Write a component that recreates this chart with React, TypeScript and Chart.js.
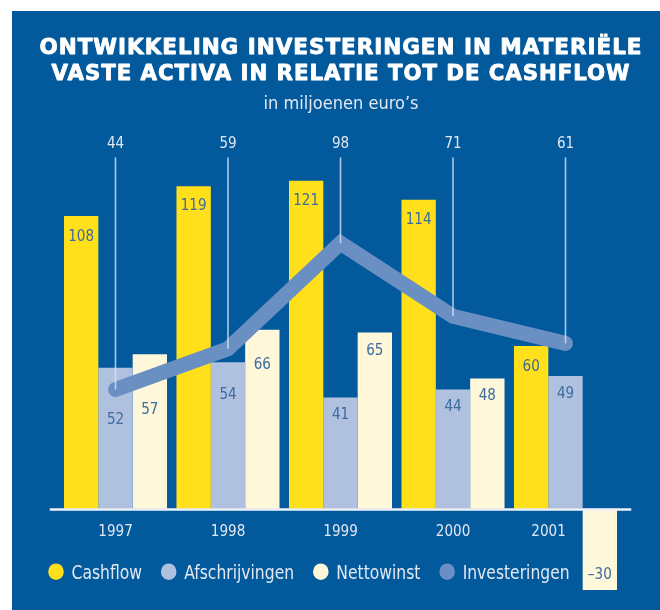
import React, { useEffect, useRef } from 'react';
import { Chart, registerables } from 'chart.js';

Chart.register(...registerables);

// ---- data ----
const years = ['1997', '1998', '1999', '2000', '2001'];
const cashflow = [108, 119, 121, 114, 60];
const afschrijvingen = [52, 54, 41, 44, 49];
const nettowinst = [57, 66, 65, 48, -30];
const investeringen = [44, 59, 98, 71, 61];
const seriesNames = ['Cashflow', 'Afschrijvingen', 'Nettowinst', 'Investeringen'];
const titleLines = ['ONTWIKKELING INVESTERINGEN IN MATERIËLE', 'VASTE ACTIVA IN RELATIE TOT DE CASHFLOW'];
const subtitle = 'in miljoenen euro\u2019s';

// ---- styles ----
const BLUE = '#02599c';
const YELLOW = '#ffe01b';
const LAVENDER = '#b0c1df';
const CREAM = '#fff7da';
const LINE = '#6a8fc2';
const LABEL = '#3c6c9f';
const LIGHT = '#e2e8f2';
const COND = "'DejaVu Sans Condensed', 'DejaVu Sans', sans-serif";
const BOLD = "bold 22px 'DejaVu Sans', sans-serif";
// label offsets (px below bar top, or above bar bottom for negatives), per bar series
const labelOffsets = [
  [19, 18, 19, 19, 19],
  [51, 31, 16, 16, 17],
  [54, 34, 17, 16, 17],
];
// horizontal shift of the year labels (2001 centred on its bars above the axis)
const yearShift = [0, 0, 0, 0, -17];

function measure(ctx: CanvasRenderingContext2D, font: string, s: string) {
  ctx.save();
  ctx.font = font;
  (ctx as any).fontStretch = 'condensed';
  const w = ctx.measureText(s).width;
  ctx.restore();
  return w;
}

function drawText(
  ctx: CanvasRenderingContext2D,
  text: string,
  x: number,
  y: number,
  font: string,
  color: string,
  align: CanvasTextAlign,
  sx = 1
) {
  ctx.save();
  ctx.font = font;
  (ctx as any).fontStretch = 'condensed';
  ctx.fillStyle = color;
  ctx.textAlign = align;
  ctx.textBaseline = 'alphabetic';
  ctx.translate(x, y);
  ctx.scale(sx, 1);
  ctx.fillText(text, 0, 0);
  ctx.restore();
}

const panelPlugin = {
  id: 'panel',
  beforeDraw(chart: any) {
    const ctx = chart.ctx as CanvasRenderingContext2D;
    ctx.save();
    ctx.fillStyle = '#ffffff';
    ctx.fillRect(0, 0, chart.width, chart.height);
    ctx.fillStyle = BLUE;
    ctx.fillRect(12, 11, chart.width - 12, chart.height - 11);
    ctx.restore();
  },
  afterDraw(chart: any) {
    const ctx = chart.ctx as CanvasRenderingContext2D;
    // title
    const tw = [603, 579];
    const tb = [54, 80];
    titleLines.forEach((t, i) => {
      ctx.save();
      ctx.font = BOLD;
      (ctx as any).letterSpacing = '1px';
      const w = ctx.measureText(t).width;
      ctx.restore();
      ctx.save();
      ctx.font = BOLD;
      (ctx as any).letterSpacing = '1px';
      ctx.fillStyle = '#ffffff';
      ctx.strokeStyle = '#ffffff';
      ctx.lineWidth = 0.9;
      ctx.lineJoin = 'round';
      ctx.textAlign = 'center';
      ctx.translate(341, tb[i]);
      ctx.scale(tw[i] / w, 1);
      ctx.fillText(t, 0, 0);
      ctx.strokeText(t, 0, 0);
      ctx.restore();
    });
    const sf = `18px ${COND}`;
    drawText(ctx, subtitle, 341, 109, sf, LIGHT, 'center', 155 / measure(ctx, sf, subtitle));
  },
};

const decorPlugin = {
  id: 'decor',
  afterDatasetsDraw(chart: any) {
    const ctx = chart.ctx as CanvasRenderingContext2D;
    const xs = chart.scales.x;
    const ys = chart.scales.y;
    const area = chart.chartArea;
    const y0 = ys.getPixelForValue(0);

    // axis line
    ctx.save();
    ctx.strokeStyle = '#eef2f8';
    ctx.lineWidth = 2.5;
    ctx.beginPath();
    ctx.moveTo(xs.left - 9.5, y0 + 0.75);
    ctx.lineTo(xs.right + 9.5, y0 + 0.75);
    ctx.stroke();
    ctx.restore();

    const numFont = `15px ${COND}`;
    const numSx = 34.5 / measure(ctx, numFont, '1997');

    // guide lines + top labels for the line series
    const lineMeta = chart.getDatasetMeta(3);
    lineMeta.data.forEach((p: any, i: number) => {
      ctx.save();
      ctx.strokeStyle = 'rgba(215,228,246,0.8)';
      ctx.lineWidth = 1.6;
      ctx.beginPath();
      ctx.moveTo(p.x, area.top + 1);
      ctx.lineTo(p.x, p.y);
      ctx.stroke();
      ctx.restore();
      drawText(ctx, String(investeringen[i]), p.x, area.top - 8.5, numFont, LIGHT, 'center', numSx);
    });

    // bar value labels
    const barSeries = [cashflow, afschrijvingen, nettowinst];
    barSeries.forEach((vals, di) => {
      const meta = chart.getDatasetMeta(di);
      meta.data.forEach((el: any, i: number) => {
        const v = vals[i];
        const off = labelOffsets[di][i];
        const cy = v >= 0 ? el.y + off : el.y - off;
        const txt = v < 0 ? '\u2013' + Math.abs(v) : String(v);
        drawText(ctx, txt, el.x, cy + 5.5, numFont, LABEL, 'center', numSx);
      });
    });

    // year labels
    years.forEach((yr, i) => {
      drawText(ctx, yr, xs.getPixelForValue(i) + yearShift[i], y0 + 27, numFont, LIGHT, 'center', numSx);
    });

    // legend
    const lf = `19px ${COND}`;
    const lsx = 70.5 / measure(ctx, lf, 'Cashflow');
    const colors = [YELLOW, LAVENDER, CREAM, LINE];
    let x = 48;
    const cy = y0 + 63;
    seriesNames.forEach((name, i) => {
      ctx.save();
      ctx.fillStyle = colors[i];
      ctx.beginPath();
      ctx.ellipse(x + 8, cy, 7.8, 8.3, 0, 0, Math.PI * 2);
      ctx.fill();
      ctx.restore();
      const tx = x + 23.5;
      drawText(ctx, name, tx, y0 + 70.5, lf, LIGHT, 'left', lsx);
      const w = measure(ctx, lf, name) * lsx;
      x = tx + w + 18.7;
    });
  },
};

export default function App() {
  const ref = useRef<HTMLCanvasElement>(null);
  useEffect(() => {
    const canvas = ref.current!;
    const chart = new Chart(canvas, {
      type: 'bar',
      data: {
        labels: years,
        datasets: [
          {
            label: seriesNames[0],
            data: cashflow,
            backgroundColor: YELLOW,
            borderWidth: 0,
            order: 1,
            categoryPercentage: 0.916,
            barPercentage: 1,
          } as any,
          {
            label: seriesNames[1],
            data: afschrijvingen,
            backgroundColor: LAVENDER,
            borderWidth: 0,
            order: 1,
            categoryPercentage: 0.916,
            barPercentage: 1,
          },
          {
            label: seriesNames[2],
            data: nettowinst,
            backgroundColor: CREAM,
            borderWidth: 0,
            order: 1,
            categoryPercentage: 0.916,
            barPercentage: 1,
          },
          {
            type: 'line',
            label: seriesNames[3],
            data: investeringen,
            borderColor: LINE,
            borderWidth: 15,
            borderCapStyle: 'round',
            borderJoinStyle: 'miter',
            pointRadius: 0,
            tension: 0,
            fill: false,
            order: 0,
          },
        ],
      },
      options: {
        responsive: false,
        maintainAspectRatio: false,
        animation: false,
        devicePixelRatio: 1,
        layout: { padding: { left: 59.25, right: 38.25, top: 156.4, bottom: 20 } },
        scales: {
          x: { display: false, grid: { display: false } },
          y: { display: false, min: -30, max: 130, grid: { display: false } },
        },
        plugins: {
          legend: { display: false },
          tooltip: { enabled: false },
          title: { display: false },
        },
      },
      plugins: [panelPlugin, decorPlugin],
    } as any);
    return () => chart.destroy();
  }, []);
  return (
    <div style={{ position: 'absolute', left: 0, top: 0, width: 660, height: 610, background: '#fff' }}>
      <canvas ref={ref} width={660} height={610} style={{ display: 'block', width: 660, height: 610 }} />
    </div>
  );
}
